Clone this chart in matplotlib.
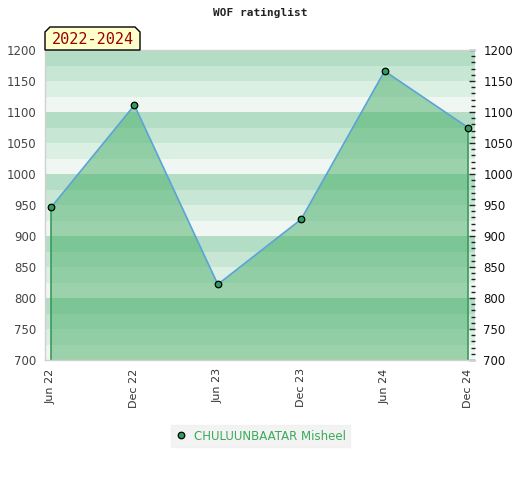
import matplotlib
matplotlib.use("Agg")
import matplotlib.pyplot as plt
from matplotlib.patches import Polygon
from matplotlib.lines import Line2D
import numpy as np

title = "WOF ratinglist"
period_label = "2022-2024"
player = "CHULUUNBAATAR Misheel"
periods = ["Jun 22", "Dec 22", "Jun 23", "Dec 23", "Jun 24", "Dec 24"]
ratings = [946, 1111, 822, 927, 1166, 1075]
y_min, y_max = 700, 1200
y_ticks = [700, 750, 800, 850, 900, 950, 1000, 1050, 1100, 1150, 1200]

W, H = 520, 480
fig = plt.figure(figsize=(W / 100, H / 100), dpi=100)
L, R, T, B = 45, 475, 50, 360
ax = fig.add_axes([L / W, 1 - B / H, (R - L) / W, (B - T) / H])

x = np.arange(len(periods))
ax.set_xlim(-0.072, len(periods) - 1 + 0.084)
ax.set_ylim(y_min, y_max)

# background bands
band_colors = ["#f0f7f2", "#dcefe3", "#c8e6d4", "#b3ddc4"]
for v in range(y_min, y_max, 25):
    ax.axhspan(v, v + 25, color=band_colors[((v - y_min) // 25) % 4], lw=0, zorder=0)

# area fill
ax.fill_between(x, ratings, y_min, facecolor="#47af68", alpha=0.5, lw=0, zorder=1)
ax.vlines([x[0], x[-1]], y_min, [ratings[0], ratings[-1]], color="#3a9a5a", lw=1.2, zorder=2)
ax.plot(x, ratings, color="#5ba3d9", lw=1.2, zorder=3)
ax.plot(x, ratings, ls="none", marker="o", ms=4.7, mfc="#2e9e5b", mec="black", mew=0.9, zorder=4)

ax.set_xticks(x)
ax.set_xticklabels(periods, rotation=90, fontsize=8, color="#333333")
ax.tick_params(axis="x", length=0, pad=6)

ax.set_yticks(y_ticks)
ax.yaxis.set_minor_locator(matplotlib.ticker.MultipleLocator(10))
ax.tick_params(axis="y", which="both", left=False, right=True, labelleft=True,
               labelright=True, direction="in", labelsize=8.5)
ax.tick_params(axis="y", which="major", length=4, width=1, color="#222222", pad=6)
ax.tick_params(axis="y", which="minor", length=3, width=1, color="#222222")
for t in ax.yaxis.get_major_ticks():
    t.label1.set_color("#444444")
    t.label2.set_color("#111111")

for s in ["left", "bottom", "top"]:
    ax.spines[s].set_color("#d0d0d0")
    ax.spines[s].set_linewidth(1)
ax.spines["right"].set_visible(False)

fig.text(0.5, 1 - 13 / H, title, ha="center", va="center",
         family="DejaVu Sans Mono", fontweight="bold", fontsize=8, color="#222222")

# period label box with chamfered top corners
pts = [(45, 50), (45, 32), (50, 27), (135, 27), (140, 32), (140, 50)]
poly = Polygon([(px / W, 1 - py / H) for px, py in pts], closed=True,
               transform=fig.transFigure, facecolor="#ffffcc", edgecolor="black", lw=1)
fig.add_artist(poly)
fig.text(92.5 / W, 1 - 40 / H, period_label, ha="center", va="center",
         family="DejaVu Sans Mono", fontsize=11, color="#990000")

handle = Line2D([], [], ls="none", marker="o", ms=4.7, mfc="#2e9e5b", mec="black", mew=0.9)
leg = fig.legend([handle], [player], loc="center", bbox_to_anchor=(260.5 / W, 1 - 436 / H),
                 frameon=True, fontsize=8.5, labelcolor="#3aaa5a", handlelength=1,
                 handletextpad=0.6, borderpad=0.35, fancybox=False)
leg.get_frame().set_facecolor("#f0f0f0")
leg.get_frame().set_edgecolor("#f0f0f0")

fig.savefig("out.png", dpi=100)
